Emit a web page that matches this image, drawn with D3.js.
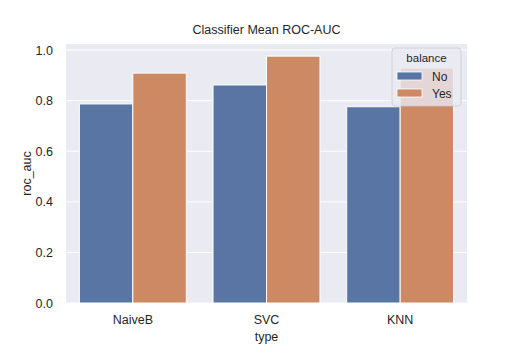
<!DOCTYPE html>
<html><head><meta charset="utf-8">
<script src="https://cdn.jsdelivr.net/npm/d3@7"></script>
<style>body{margin:0;background:#fff;}text{font-family:"Liberation Sans",Arial,sans-serif;}</style>
</head><body>
<svg id="c" width="519" height="346"></svg>
<script>
const categories = ["NaiveB", "SVC", "KNN"];
const seriesNames = ["No", "Yes"];
const valuesNo = [0.787, 0.862, 0.776];
const valuesYes = [0.909, 0.976, 0.929];
const yTicks = [0.0, 0.2, 0.4, 0.6, 0.8, 1.0];
const colors = ["#5975a4", "#cc8963"];

const svg = d3.select("#c");
const m = {l: 66, r: 52, t: 44, b: 43};
const W = 519, H = 346;
const x = d3.scaleBand().domain(categories).range([m.l, W - m.r]).padding(0);
const inner = d3.scaleBand().domain(seriesNames).range([0, x.bandwidth()]).paddingInner(0).paddingOuter(0.25);
const y = d3.scaleLinear().domain([0, 1.024]).range([H - m.b, m.t]);

svg.append("rect").attr("x", m.l).attr("y", m.t).attr("width", W - m.r - m.l).attr("height", H - m.b - m.t).attr("fill", "#eaeaf2");

svg.append("g").selectAll("line").data(yTicks).join("line")
  .attr("x1", m.l).attr("x2", W - m.r).attr("y1", d => y(d)).attr("y2", d => y(d))
  .attr("stroke", "#fff").attr("stroke-width", 1);

const data = [];
categories.forEach((c, i) => {
  data.push({c, s: "No", v: valuesNo[i]});
  data.push({c, s: "Yes", v: valuesYes[i]});
});
svg.append("g").selectAll("rect").data(data).join("rect")
  .attr("x", d => x(d.c) + inner(d.s))
  .attr("width", inner.bandwidth())
  .attr("y", d => y(d.v))
  .attr("height", d => y(0) - y(d.v))
  .attr("fill", d => colors[seriesNames.indexOf(d.s)])
  .attr("stroke", "#fff").attr("stroke-width", 1);

const yAxis = d3.axisLeft(y).tickValues(yTicks).tickFormat(d3.format(".1f")).tickSize(0).tickPadding(13);
const ya = svg.append("g").attr("transform", `translate(${m.l},0)`).call(yAxis);
ya.select(".domain").remove();
ya.selectAll("text").attr("font-size", 12.5).attr("fill", "#262626").attr("font-family", "Liberation Sans, Arial, sans-serif");

const xAxis = d3.axisBottom(x).tickSize(0).tickPadding(12);
const xa = svg.append("g").attr("transform", `translate(0,${H - m.b})`).call(xAxis);
xa.select(".domain").remove();
xa.selectAll("text").attr("font-size", 12.5).attr("fill", "#262626").attr("font-family", "Liberation Sans, Arial, sans-serif");

svg.append("text").attr("x", (m.l + W - m.r) / 2).attr("y", 34).attr("text-anchor", "middle")
  .attr("font-size", 12.5).attr("fill", "#262626").text("Classifier Mean ROC-AUC");
svg.append("text").attr("x", (m.l + W - m.r) / 2).attr("y", 341).attr("text-anchor", "middle")
  .attr("font-size", 12.5).attr("fill", "#262626").text("type");
svg.append("text").attr("transform", `translate(31,${(m.t + H - m.b) / 2}) rotate(-90)`).attr("text-anchor", "middle")
  .attr("font-size", 12.5).attr("fill", "#262626").text("roc_auc");

// legend
const lg = svg.append("g").attr("transform", "translate(392,48)");
lg.append("rect").attr("width", 69).attr("height", 58).attr("rx", 3)
  .attr("fill", "#eaeaf2").attr("fill-opacity", 0.8).attr("stroke", "#cccccc").attr("stroke-width", 0.8);
lg.append("text").attr("x", 34.5).attr("y", 14).attr("text-anchor", "middle").attr("font-size", 11.5).attr("fill", "#262626").text("balance");
seriesNames.forEach((s, i) => {
  lg.append("rect").attr("x", 5).attr("y", 24 + i * 17).attr("width", 25).attr("height", 8).attr("fill", colors[i]).attr("stroke", "#fff").attr("stroke-width", 0.8);
  lg.append("text").attr("x", 40).attr("y", 33 + i * 17).attr("font-size", 12).attr("fill", "#262626").text(s);
});
</script>
</body></html>
